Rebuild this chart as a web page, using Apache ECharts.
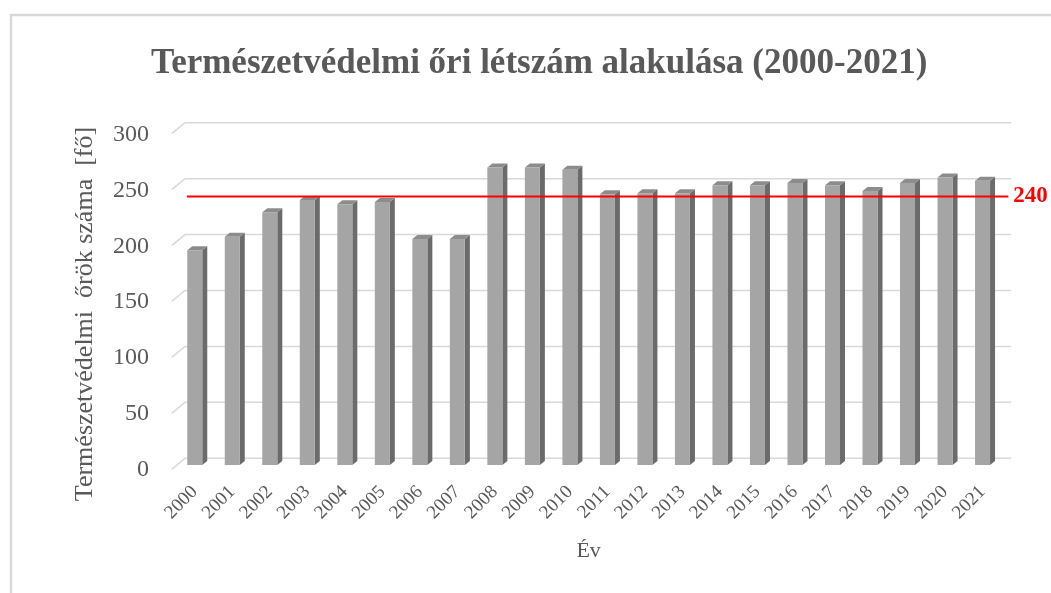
<!DOCTYPE html>
<html>
<head>
<meta charset="utf-8">
<script src="https://cdn.jsdelivr.net/npm/echarts@6/dist/echarts.min.js"></script>
<style>
  html, body { margin: 0; padding: 0; background: #fff; }
  #chart { width: 1051px; height: 593px; }
</style>
</head>
<body>
<div id="chart"></div>
<script>
// adatok
var years = ['2000', '2001', '2002', '2003', '2004', '2005', '2006', '2007', '2008', '2009', '2010',
  '2011', '2012', '2013', '2014', '2015', '2016', '2017', '2018', '2019', '2020', '2021'];
var rangers = [192, 204, 226, 237, 233, 235, 202, 202, 266, 266, 264,
  242, 243, 243, 250, 250, 252, 250, 245, 252, 257, 254];
var yTicks = [0, 50, 100, 150, 200, 250, 300];
var targetLine = [240];

var FONT = '"Liberation Serif", "Times New Roman", serif';
var GREY_TEXT = '#595959';
// 3D-s oszlop színei
var FRONT = '#a5a5a5';
var SIDE = '#6b6b6b';
var TOP = '#8c8c8c';
var DX = 5, DY = 4;

var chart = echarts.init(document.getElementById('chart'));

// háttérfal rácsvonalai (ferde padló-szakasszal) és a tengelyfeliratok
function renderGrid(params, api) {
  var cs = params.coordSys;
  var v = api.value(1);
  var y = api.coord([0, v])[1];
  return {
    type: 'group',
    children: [
      {
        type: 'polyline',
        shape: { points: [[cs.x - 4.3, y + 4.3], [cs.x + 9, y - 6.7], [cs.x + cs.width + 10, y - 6.7]] },
        style: { stroke: '#d9d9d9', lineWidth: 1.5, fill: null }
      },
      {
        type: 'text', x: cs.x - 27, y: y + 5,
        style: { text: String(v), font: '24px ' + FONT, fill: GREY_TEXT, align: 'right', verticalAlign: 'middle' }
      }
    ],
    silent: true
  };
}

// álló 3D oszlopok
function renderBar(params, api) {
  var base = api.coord([api.value(0), 0]);
  var top = api.coord([api.value(0), api.value(1)]);
  var bw = api.size([1, 0])[0] * 0.4;
  var x0 = base[0] - bw / 2, x1 = base[0] + bw / 2;
  var y0 = top[1], y1 = base[1];
  return {
    type: 'group',
    children: [
      { type: 'polygon', shape: { points: [[x1, y0], [x1 + DX, y0 - DY], [x1 + DX, y1 - DY], [x1, y1]] }, style: { fill: SIDE } },
      { type: 'polygon', shape: { points: [[x0, y0], [x0 + DX, y0 - DY], [x1 + DX, y0 - DY], [x1, y0]] }, style: { fill: TOP } },
      { type: 'rect', shape: { x: x0, y: y0, width: bw, height: y1 - y0 }, style: { fill: FRONT } }
    ]
  };
}

// piros célvonal felirattal
function renderTarget(params, api) {
  var cs = params.coordSys;
  var y = api.coord([0, api.value(1)])[1];
  return {
    type: 'group',
    children: [
      { type: 'line', shape: { x1: cs.x + 11, y1: y, x2: cs.x + cs.width + 7, y2: y }, style: { stroke: '#ff0000', lineWidth: 2 } },
      {
        type: 'text', x: cs.x + cs.width + 12, y: y,
        style: { text: String(api.value(1)), fill: '#ff0000', font: 'bold 23px ' + FONT, align: 'left', verticalAlign: 'middle' }
      }
    ]
  };
}

var option = {
  animation: false,
  title: {
    text: 'Természetvédelmi őri létszám alakulása (2000-2021)',
    left: 146,
    top: 41,
    textStyle: { fontFamily: FONT, fontSize: 35, fontWeight: 'bold', color: GREY_TEXT }
  },
  graphic: [
    {
      type: 'rect', shape: { x: 11, y: 15, width: 1200, height: 800 },
      style: { fill: null, stroke: '#d9d9d9', lineWidth: 2.5 }, silent: true
    },
    {
      type: 'text', x: 85, y: 314, rotation: Math.PI / 2,
      style: {
        text: 'Természetvédelmi  őrök száma  [fő]', font: '26px ' + FONT, fill: GREY_TEXT,
        align: 'center', verticalAlign: 'middle'
      }
    }
  ],
  grid: { left: 176, right: 49.7, top: 129.4, bottom: 128 },
  xAxis: {
    type: 'category',
    data: years,
    axisLine: { show: false },
    axisTick: { show: false },
    axisLabel: { rotate: 45, margin: 24, fontFamily: FONT, fontSize: 19, color: GREY_TEXT },
    name: 'Év',
    nameLocation: 'middle',
    nameGap: 75,
    nameTextStyle: { fontFamily: FONT, fontSize: 22, color: GREY_TEXT }
  },
  yAxis: {
    type: 'value',
    min: 0,
    max: 300,
    interval: 50,
    axisLine: { show: false },
    axisTick: { show: false },
    splitLine: { show: false },
    axisLabel: { show: false }
  },
  series: [
    { type: 'custom', z: 1, renderItem: renderGrid, data: yTicks.map(function (v) { return [0, v]; }) },
    { type: 'custom', z: 2, renderItem: renderBar, data: rangers.map(function (v, i) { return [i, v]; }) },
    { type: 'custom', z: 3, renderItem: renderTarget, data: targetLine.map(function (v) { return [0, v]; }) }
  ]
};

chart.setOption(option);
</script>
</body>
</html>
